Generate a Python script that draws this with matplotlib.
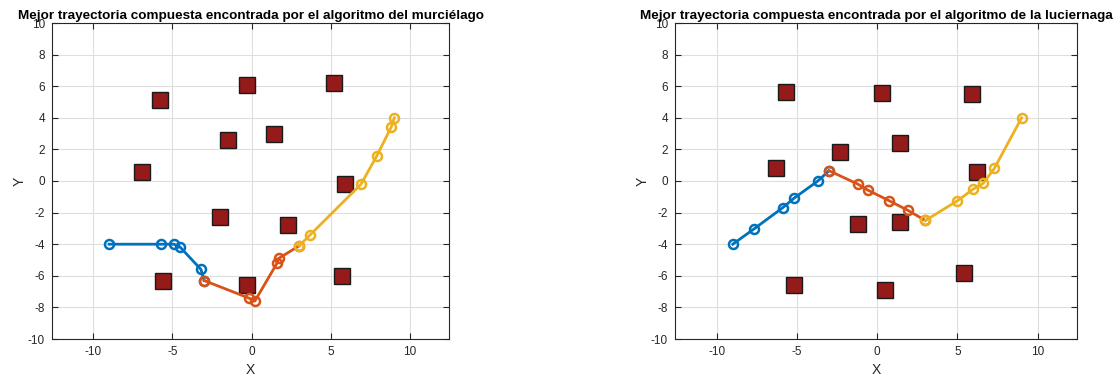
import matplotlib
matplotlib.use("Agg")
import matplotlib.pyplot as plt

plt.rcParams['font.family'] = ['Liberation Sans', 'DejaVu Sans']
plt.rcParams['axes.unicode_minus'] = False

# ==================== Datos: algoritmo del murciélago ====================
bat_obs_x = [-5.8, -0.3, 5.2, -1.5, 1.4, -6.9, 5.9, -2.0, 2.3, -5.6, -0.3, 5.7]
bat_obs_y = [5.1, 6.1, 6.2, 2.6, 3.0, 0.6, -0.2, -2.3, -2.8, -6.3, -6.6, -6.0]

bat_seg1_x = [-9.0, -5.7, -4.9, -4.5, -3.2, -3.0]
bat_seg1_y = [-4.0, -4.0, -4.0, -4.2, -5.6, -6.3]
bat_seg2_x = [-3.0, -0.2, 0.2, 1.6, 1.7, 3.0]
bat_seg2_y = [-6.3, -7.4, -7.6, -5.2, -4.9, -4.1]
bat_seg3_x = [3.0, 3.7, 6.9, 7.9, 8.8, 9.0]
bat_seg3_y = [-4.1, -3.4, -0.2, 1.6, 3.4, 4.0]

# ==================== Datos: algoritmo de la luciérnaga ====================
ff_obs_x = [-5.7, 0.3, 5.9, 1.4, -2.3, -6.3, 6.2, -1.2, 1.4, -5.2, 0.5, 5.4]
ff_obs_y = [5.65, 5.6, 5.5, 2.4, 1.85, 0.8, 0.6, -2.7, -2.6, -6.6, -6.9, -5.8]

ff_seg1_x = [-9.0, -7.7, -5.9, -5.2, -3.7, -3.0]
ff_seg1_y = [-4.0, -3.05, -1.7, -1.1, 0.0, 0.65]
ff_seg2_x = [-3.0, -1.2, -0.6, 0.75, 1.9, 3.0]
ff_seg2_y = [0.65, -0.2, -0.57, -1.25, -1.85, -2.5]
ff_seg3_x = [3.0, 5.0, 6.0, 6.6, 7.3, 9.0]
ff_seg3_y = [-2.5, -1.25, -0.5, -0.15, 0.8, 4.0]

titles = [
    "Mejor trayectoria compuesta encontrada por el algoritmo del murciélago",
    "Mejor trayectoria compuesta encontrada por el algoritmo de la luciernaga",
]

seg_colors = ['#0072BD', '#D95319', '#EDB120']

fig = plt.figure(figsize=(11.2, 3.77), dpi=100)
ax1 = fig.add_axes([52 / 1120, 1 - 339 / 377, 397 / 1120, 316 / 377])
ax2 = fig.add_axes([675 / 1120, 1 - 339 / 377, 402 / 1120, 316 / 377])

datasets = [
    (ax1, bat_obs_x, bat_obs_y,
     [(bat_seg1_x, bat_seg1_y), (bat_seg2_x, bat_seg2_y), (bat_seg3_x, bat_seg3_y)]),
    (ax2, ff_obs_x, ff_obs_y,
     [(ff_seg1_x, ff_seg1_y), (ff_seg2_x, ff_seg2_y), (ff_seg3_x, ff_seg3_y)]),
]

for i, (ax, ox, oy, segs) in enumerate(datasets):
    # obstáculos
    ax.plot(ox, oy, 's', ms=11.5, mfc='#951a1a', mec='#1a1a1a', mew=1.0,
            ls='none', zorder=3)
    # tramos de la trayectoria
    for (sx, sy), c in zip(segs, seg_colors):
        ax.plot(sx, sy, '-o', color=c, lw=2.0, ms=6.5, mfc='none', mew=1.8,
                zorder=4)

    ax.set_xlim(-12.6, 12.45)
    ax.set_ylim(-10, 10)
    ax.set_xticks([-10, -5, 0, 5, 10])
    ax.set_yticks(range(-10, 11, 2))
    ax.grid(True, color='#dedede', lw=0.8)
    ax.set_axisbelow(True)
    ax.tick_params(direction='in', top=True, right=True, length=4,
                   width=0.8, labelsize=8.5, colors='#262626', pad=5)
    for sp in ax.spines.values():
        sp.set_color('#262626')
        sp.set_linewidth(0.8)
    ax.set_xlabel('X', fontsize=10, color='#262626', labelpad=4)
    ax.set_ylabel('Y', fontsize=10, color='#262626', labelpad=1)
    ax.set_title(titles[i], fontsize=9.7, fontweight='bold', pad=3)

fig.savefig('out.png', dpi=100)
